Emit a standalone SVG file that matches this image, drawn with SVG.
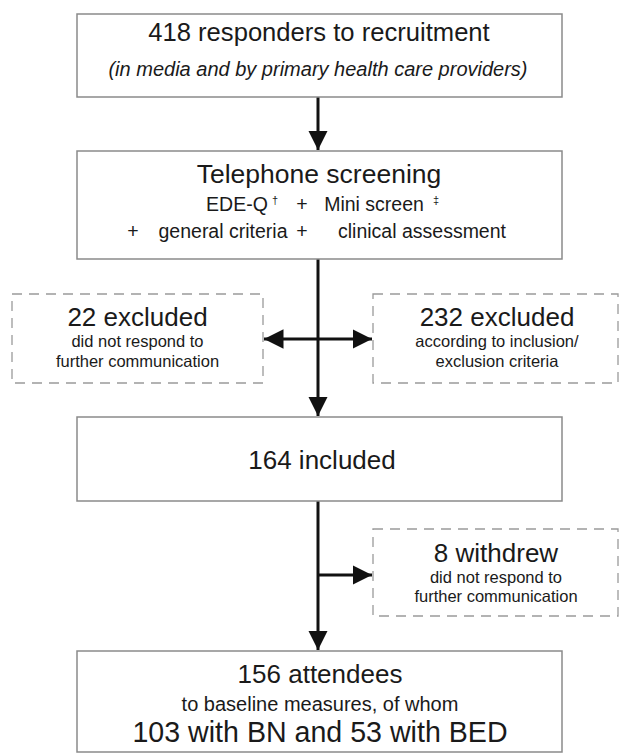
<svg xmlns="http://www.w3.org/2000/svg" width="621" height="753" viewBox="0 0 621 753">
<style>
text{font-family:"Liberation Sans",Arial,sans-serif;fill:#1a1a1a;text-anchor:middle}
.box{fill:#fff;stroke:#8a8a8a;stroke-width:1.5}
.dash{fill:#fff;stroke:#9a9a9a;stroke-width:1.3;stroke-dasharray:10 7}
.big{font-size:26px}
.mid{font-size:19.5px}
.sm{font-size:16.5px}
.con{stroke:#111;stroke-width:3;fill:none}
</style>
<defs>
<marker id="ah" viewBox="0 0 10 10" refX="10" refY="5" markerWidth="6.5" markerHeight="6.5" markerUnits="strokeWidth" orient="auto">
<path d="M0,0 L10,5 L0,10 z" fill="#111"/>
</marker>
</defs>
<rect width="621" height="753" fill="#fff"/>
<g id="connectors">
<line class="con" x1="318" y1="97" x2="318" y2="150" marker-end="url(#ah)"/>
<line class="con" x1="318" y1="259" x2="318" y2="416" marker-end="url(#ah)"/>
<line class="con" x1="318" y1="339" x2="264" y2="339" marker-end="url(#ah)"/>
<line class="con" x1="318" y1="339" x2="372" y2="339" marker-end="url(#ah)"/>
<line class="con" x1="318" y1="501" x2="318" y2="650" marker-end="url(#ah)"/>
<line class="con" x1="318" y1="575" x2="372" y2="575" marker-end="url(#ah)"/>
</g>
<g id="n1">
<rect class="box" x="77" y="14" width="485" height="83"/>
<text x="319" y="41" style="font-size:25.6px">418 responders to recruitment</text>
<text x="318" y="76" style="font-size:20px;font-style:italic">(in media and by primary health care providers)</text>
</g>
<g id="n2">
<rect class="box" x="77" y="151" width="485" height="108"/>
<text x="319" y="183" style="font-size:26.5px">Telephone screening</text>
<text y="211" class="mid"><tspan x="237">EDE-Q</tspan><tspan x="275" y="204" style="font-size:11px">†</tspan><tspan x="302" y="211">+</tspan><tspan x="374" y="211">Mini screen</tspan><tspan x="436" y="204" style="font-size:11px">‡</tspan></text>
<text y="238" class="mid"><tspan x="133">+</tspan><tspan x="223">general criteria</tspan><tspan x="302">+</tspan><tspan x="422">clinical assessment</tspan></text>
</g>
<g id="n3">
<rect class="dash" x="12" y="294" width="251" height="89"/>
<text x="137.5" y="326" class="big">22 excluded</text>
<text x="137.5" y="347" class="sm">did not respond to</text>
<text x="137.5" y="367" class="sm">further communication</text>
</g>
<g id="n4">
<rect class="dash" x="373" y="294" width="245" height="89"/>
<text x="497" y="326" class="big">232 excluded</text>
<text x="497" y="347" class="sm">according to inclusion/</text>
<text x="497" y="367" class="sm">exclusion criteria</text>
</g>
<g id="n5">
<rect class="box" x="77" y="417" width="485" height="84"/>
<text x="322" y="469" class="big">164 included</text>
</g>
<g id="n6">
<rect class="dash" x="373" y="529" width="245" height="87"/>
<text x="496" y="562" class="big">8 withdrew</text>
<text x="496" y="583" class="sm">did not respond to</text>
<text x="496" y="602" class="sm">further communication</text>
</g>
<g id="n7">
<rect class="box" x="77" y="651" width="485" height="101"/>
<text x="320" y="683" class="big">156 attendees</text>
<text x="320" y="711" style="font-size:20px">to baseline measures, of whom</text>
<text x="320" y="742" style="font-size:28.6px">103 with BN and 53 with BED</text>
</g>
</svg>
